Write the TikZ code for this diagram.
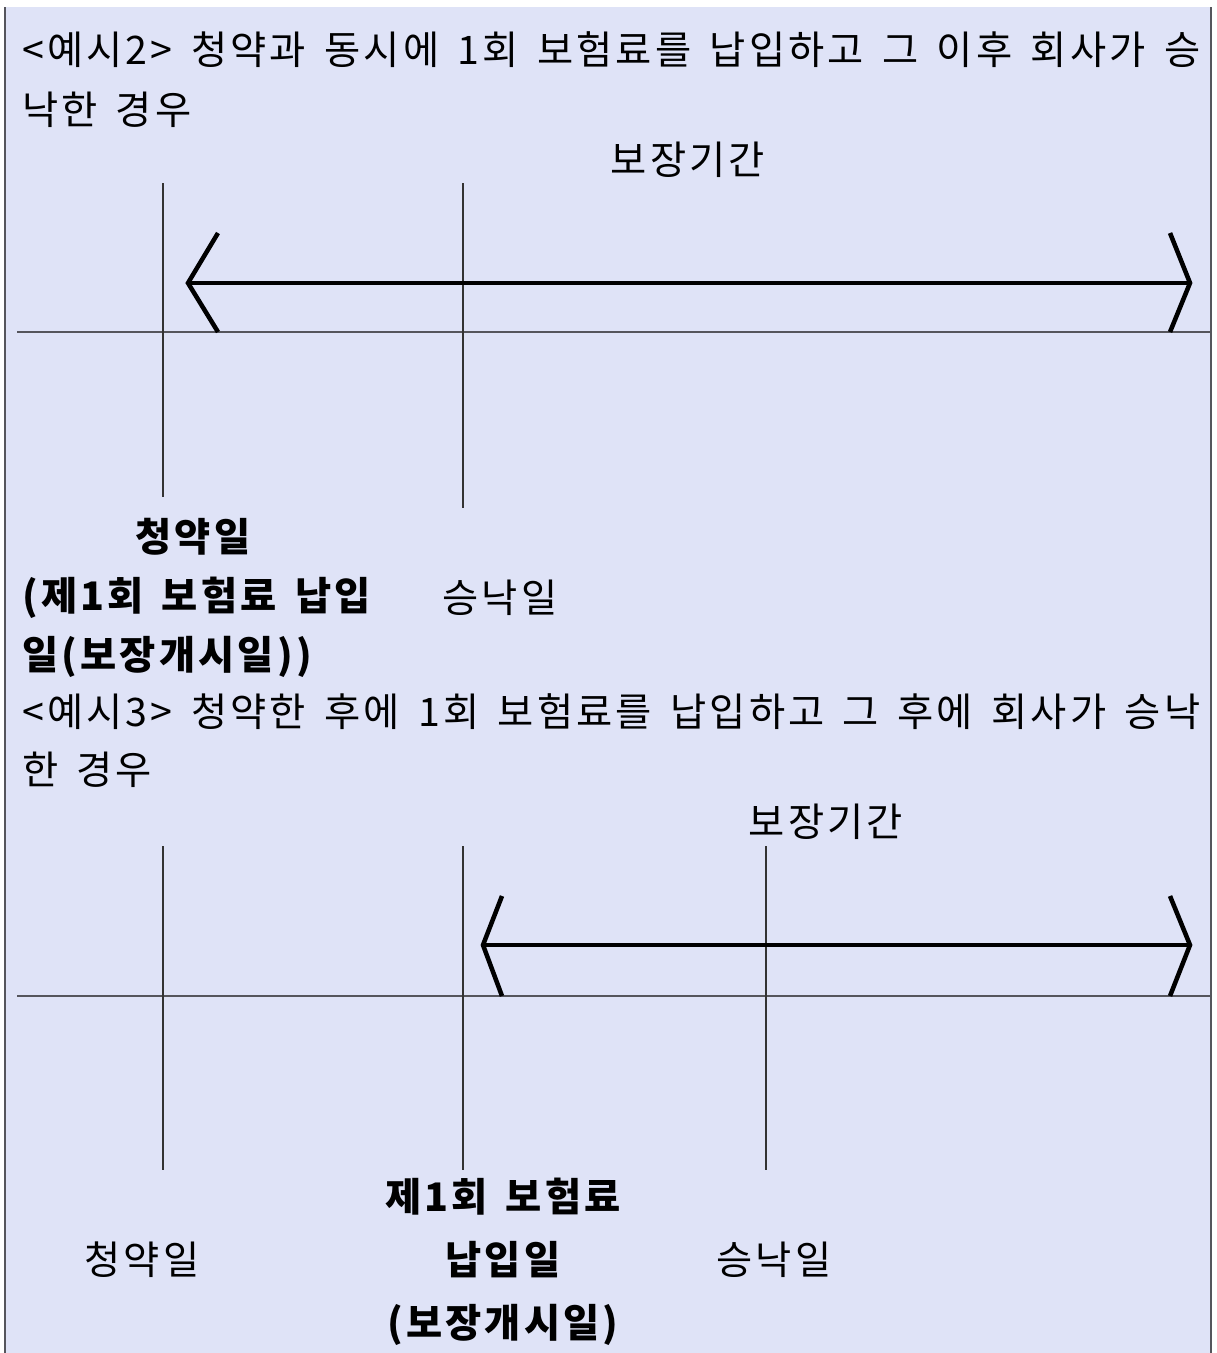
\documentclass[tikz,border=0pt]{standalone}
\usepackage{fontspec}
\setmainfont{Noto Sans CJK KR}[LetterSpace=8,WordSpace=1.5]
\usepackage{xcolor}
\usepackage{tikz}
\usetikzlibrary{positioning}
\definecolor{panelbg}{RGB}{223,227,247}
\definecolor{rulegray}{RGB}{85,85,92}
\tikzset{
textline/.style={
anchor=west,
inner sep=0pt,
font=\fontsize{29.5}{34}\selectfont
},
datetext/.style={
inner sep=0pt,
font=\fontsize{29.5}{34}\selectfont
},
datebold/.style={
inner sep=0pt,
font=\fontsize{29.5}{34}\selectfont\bfseries
},
timeline/.style={
draw=rulegray,
line width=1.5pt
},
marker/.style={
draw=black!80,
line width=0.9pt
},
period/.style={
line width=3.4pt,
line join=miter
}
}
\newcommand{\fullline}[1]{\makebox[883.5pt][s]{#1}}

\begin{document}
\begin{tikzpicture}[x=0.75pt,y=-0.75pt]
\useasboundingbox (0,0) rectangle (1217,1353);
\fill[panelbg] (5,7) rectangle (1211,1353);
\draw[rulegray,line width=1.6pt] (5,7) -- (5,1353);
\draw[rulegray,line width=0.9pt] (1211,7) -- (1211,1353);

% example 2
\node[textline](ex2a) at (22,50){\fullline{<예시2> 청약과 동시에 1회 보험료를 납입하고 그 이후 회사가 승}};
\node[textline](ex2b) at (22,110){낙한 경우};
\node[datetext](span2) at (688,160){보장기간};

\coordinate (s2l) at (17,332);
\coordinate (s2r) at (1211,332);
\coordinate (m2a) at (163,183);
\coordinate (m2b) at (163,497);
\coordinate (m2c) at (463,183);
\coordinate (m2d) at (463,508);
\coordinate (p2l) at (188,283);
\coordinate (p2r) at (1190,283);

\draw[timeline](s2l)--(s2r);
\draw[marker](m2a)--(m2b);
\draw[marker](m2c)--(m2d);
\draw[period](p2l)--(p2r);
\draw[period](p2l) ++(30,-50) -- (p2l) -- ++(30,49);
\draw[period](p2r) ++(-20,-50) -- (p2r) -- ++(-20,49);

\node[datebold](apply2) at (193,537){청약일};
\node[datebold,anchor=west](pay2) at (22,598){(제1회 보험료 납입};
\node[datetext](accept2) at (500,598){승낙일};
\node[datebold,anchor=west](start2) at (22,657){일(보장개시일))};

% example 3
\node[textline](ex3a) at (22,712){\fullline{<예시3> 청약한 후에 1회 보험료를 납입하고 그 후에 회사가 승낙}};
\node[textline](ex3b) at (22,770){한 경우};
\node[datetext](span3) at (826,822){보장기간};

\coordinate (s3l) at (17,996);
\coordinate (s3r) at (1211,996);
\coordinate (m3a) at (163,846);
\coordinate (m3b) at (163,1170);
\coordinate (m3c) at (463,846);
\coordinate (m3d) at (463,1170);
\coordinate (m3e) at (766,846);
\coordinate (m3f) at (766,1170);
\coordinate (p3l) at (483,945);
\coordinate (p3r) at (1190,945);

\draw[timeline](s3l)--(s3r);
\draw[marker](m3a)--(m3b);
\draw[marker](m3c)--(m3d);
\draw[marker](m3e)--(m3f);
\draw[period](p3l)--(p3r);
\draw[period](p3l) ++(19,-49) -- (p3l) -- ++(19,51);
\draw[period](p3r) ++(-20,-49) -- (p3r) -- ++(-20,51);

\node[datebold](pay3) at (503,1197){제1회 보험료};
\node[datebold](pay3b) at (503,1260){납입일};
\node[datebold](start3) at (503,1325){(보장개시일)};
\node[datetext](apply3) at (142,1260){청약일};
\node[datetext](accept3) at (774,1260){승낙일};
\end{tikzpicture}
\end{document}
